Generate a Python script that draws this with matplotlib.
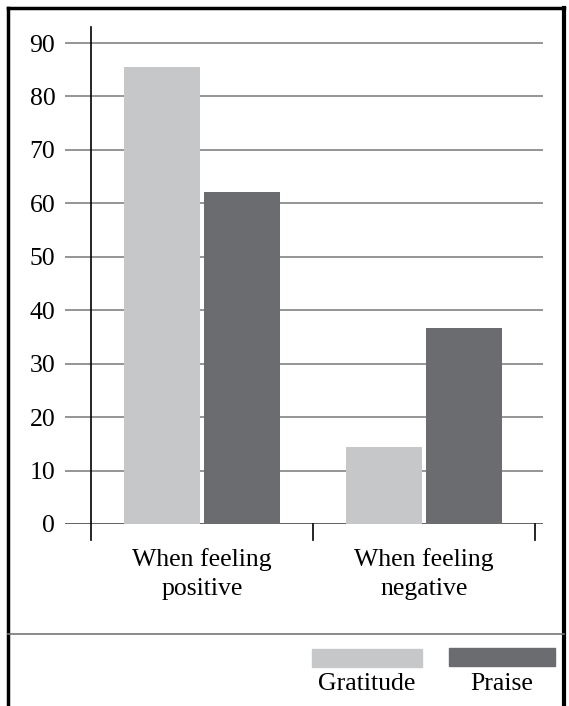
import matplotlib.pyplot as plt
from matplotlib.lines import Line2D
from matplotlib.patches import Rectangle

categories = ["When feeling\npositive", "When feeling\nnegative"]
gratitude = [85.5, 14.4]
praise = [62.1, 36.7]
yticks = [0, 10, 20, 30, 40, 50, 60, 70, 80, 90]
series_names = ["Gratitude", "Praise"]

LIGHT = "#c6c7c9"
DARK = "#6b6c70"
GRID = "#8c8c8c"

plt.rcParams['font.family'] = ['Liberation Serif', 'DejaVu Serif']

W, H = 569, 706
fig = plt.figure(figsize=(W / 100, H / 100), dpi=100)


def fx(px):
    return px / W


def fy(py):
    return 1 - py / H


# axes spans the gridline region (65..543 px), y=0 at 524 px, top at 27 px
ax = fig.add_axes([fx(65), fy(524), fx(543) - fx(65), fy(27) - fy(524)])
ax.set_xlim(-0.617, 1.536)
ax.set_ylim(0, 93)

for v in yticks:
    ax.axhline(v, color=GRID if v else "#555555", lw=1.3, zorder=1)

bw = 0.345
gap = 0.007
x = list(range(len(categories)))
ax.bar([i - bw / 2 - gap for i in x], gratitude, width=bw, color=LIGHT, zorder=2)
ax.bar([i + bw / 2 + gap for i in x], praise, width=bw, color=DARK, zorder=2)

# vertical axis line and category separators
ax.plot([-0.5, -0.5], [-3, 93], color="black", lw=1.2, clip_on=False, zorder=3)
for xs in [0.5, 1.5]:
    ax.plot([xs, xs], [-3, 0], color="black", lw=1.2, clip_on=False, zorder=3)

for s in ax.spines.values():
    s.set_visible(False)
ax.set_yticks(yticks)
ax.set_yticklabels([str(v) for v in yticks], fontsize=18.5)
ax.tick_params(axis="y", length=0, pad=7)
ax.set_xticks(x)
ax.set_xticklabels(categories, fontsize=18.5, linespacing=1.45)
ax.tick_params(axis="x", length=0, pad=17)

# frame around the figure
lw = 2.5
fig.add_artist(Line2D([fx(8), fx(8)], [0, fy(8)], color="black", lw=lw))
fig.add_artist(Line2D([fx(564), fx(564)], [0, fy(8)], color="black", lw=lw + 0.5))
fig.add_artist(Line2D([fx(8), fx(564)], [fy(8), fy(8)], color="black", lw=lw))
fig.add_artist(Line2D([fx(8), fx(564)], [fy(634), fy(634)], color="#777777", lw=1.2))

# legend
fig.add_artist(Rectangle((fx(312), fy(667)), fx(110), fy(649) - fy(667), color=LIGHT))
fig.add_artist(Rectangle((fx(449), fy(666)), fx(106), fy(648) - fy(666), color=DARK))
fig.text(fx(367), fy(684), series_names[0], ha="center", va="center", fontsize=18.5)
fig.text(fx(502), fy(684), series_names[1], ha="center", va="center", fontsize=18.5)

fig.savefig("out.png", dpi=100)
